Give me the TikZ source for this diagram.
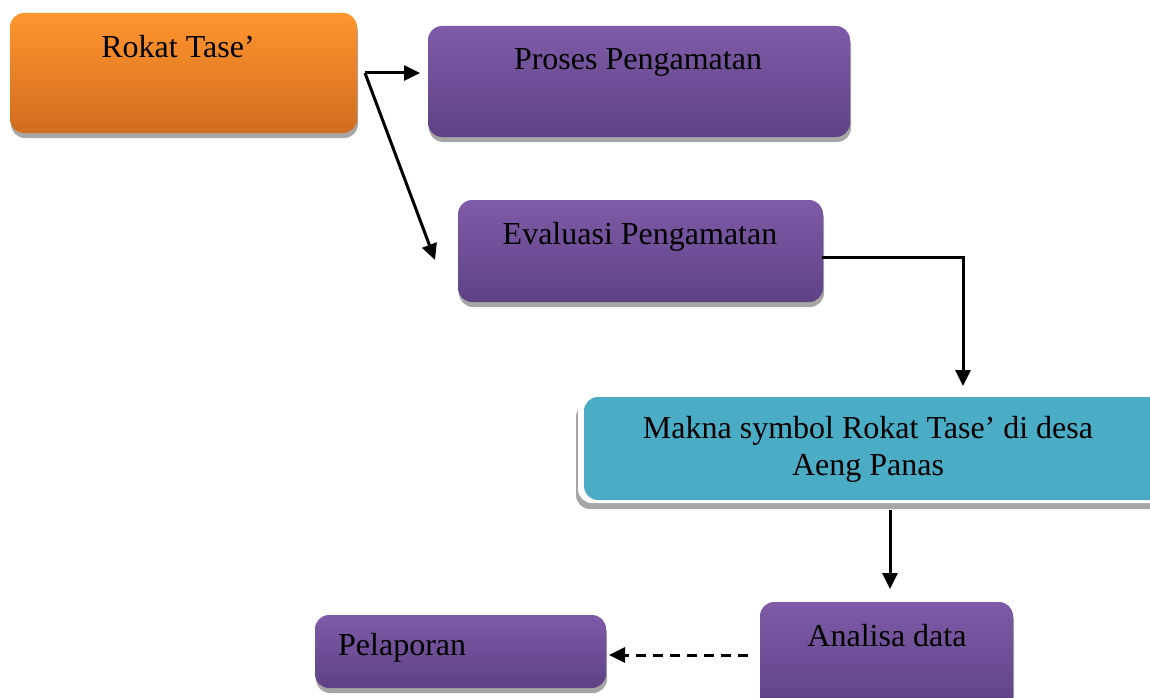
\documentclass[tikz,border=0pt]{standalone}
\usepackage{fontspec}
\setmainfont{Liberation Serif}
\usetikzlibrary{arrows.meta,shadows,calc}
\definecolor{orT}{HTML}{FF962F}
\definecolor{orB}{HTML}{D16C1E}
\definecolor{puT}{HTML}{7E5BA8}
\definecolor{puB}{HTML}{5E4285}
\definecolor{teal}{HTML}{4BACC6}
\definecolor{shd}{HTML}{A6A6A6}
\begin{document}
\begin{tikzpicture}[x=1pt,y=-1pt,
  box/.style={rounded corners=14pt, inner sep=0pt, draw=none,
    general shadow={fill=shd, shadow xshift=1pt, shadow yshift=-5pt}},
  orangebox/.style={box, top color=orT, bottom color=orB},
  purplebox/.style={box, top color=puT, bottom color=puB},
  cardbox/.style={rounded corners=14pt, inner sep=0pt, fill=white,
    general shadow={fill=shd, shadow xshift=-2pt, shadow yshift=-6pt}},
  lbl/.style={font=\fontsize{32}{37}\selectfont, inner sep=0pt, text=black},
  conn/.style={line width=3pt, -{Triangle[length=16pt,width=15pt]}}]
\useasboundingbox (0,0) rectangle (1150,698);

% boxes
\node[orangebox, minimum width=347pt, minimum height=120pt] (rokat) at (183.5,73) {};
\node[purplebox, minimum width=422pt, minimum height=111pt] (proses) at (639,81.5) {};
\node[purplebox, minimum width=365pt, minimum height=102pt] (evaluasi) at (640.5,251) {};
\node[cardbox, minimum width=590pt, minimum height=106pt] (card) at (873,450) {};
\node[rounded corners=14pt, fill=teal, inner sep=0pt, minimum width=580pt, minimum height=103pt] (makna) at (874,448.5) {};
\node[purplebox, minimum width=253pt, minimum height=108pt] (analisa) at (886.5,656) {};
\node[purplebox, minimum width=291pt, minimum height=73pt] (pelaporan) at (460.5,651.5) {};

% labels
\node[lbl] (trokat) at (178,47) {Rokat Tase’};
\node[lbl] (tproses) at (638,62) {Proses Pengamatan};
\node[lbl] (tevaluasi) at (640,237) {Evaluasi Pengamatan};
\node[lbl, align=center] (tmakna) at (868,449) {Makna symbol Rokat Tase’ di desa\\Aeng Panas};
\node[lbl] (tanalisa) at (887,636) {Analisa data};
\node[lbl, anchor=west] (tpelaporan) at (338,648) {Pelaporan};

% connectors
\coordinate (split) at (365,73);
\coordinate (p1) at (420,73);
\coordinate (e1) at (435,260);
\coordinate (ev1) at (822,257);
\coordinate (m1) at (963,386);
\coordinate (c1) at (890,510);
\coordinate (a1) at (890,589);
\coordinate (a2) at (748,655);
\coordinate (pl1) at (609,655);

\draw[conn] (split) -- (p1);
\draw[conn] (split) -- (e1);
\draw[conn] (ev1) -| (m1);
\draw[conn] (c1) -- (a1);
\draw[conn, dash pattern=on 10pt off 7pt] (a2) -- (pl1);
\end{tikzpicture}
\end{document}
